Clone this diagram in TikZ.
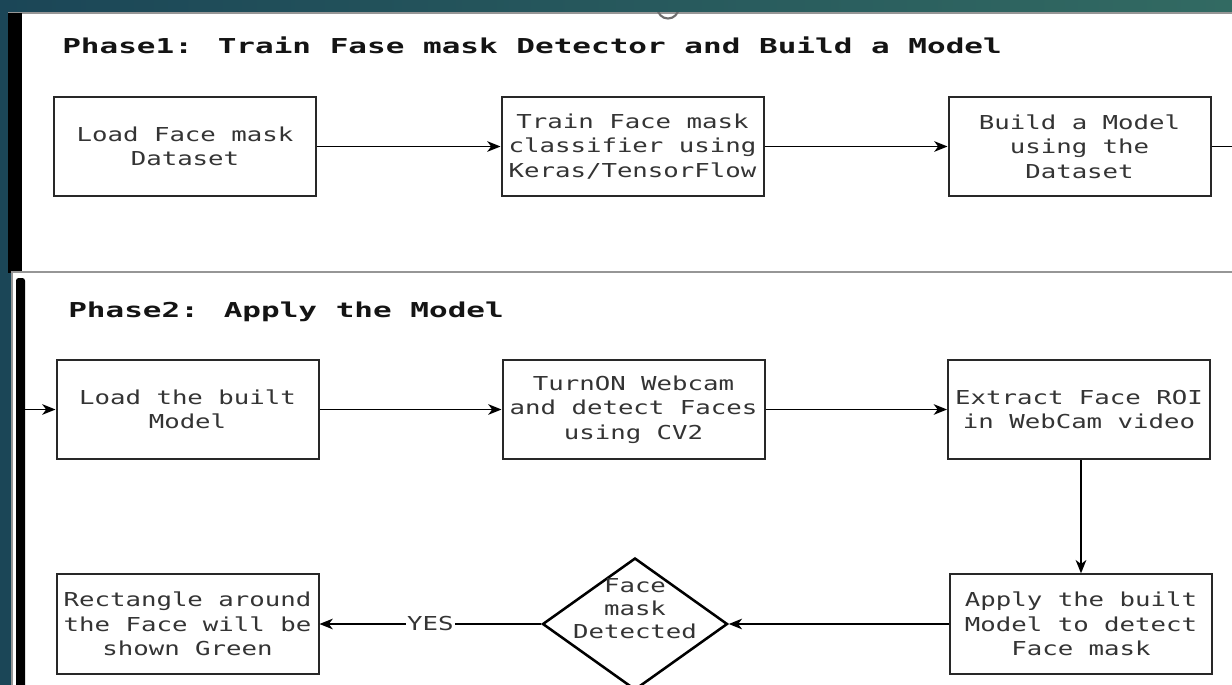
\documentclass[tikz,border=0pt]{standalone}
\usepackage{fontspec}
\usetikzlibrary{shapes.geometric,arrows.meta}
\newfontfamily\boxfont{DejaVu Sans Mono}[FakeStretch=1.34]
\newfontfamily\phasefont{DejaVu Sans Mono}[FakeStretch=1.51]
\definecolor{slidetealleft}{RGB}{27,70,87}
\definecolor{slidetealright}{RGB}{50,106,98}
\definecolor{boxtext}{RGB}{52,52,52}

\begin{document}
\begin{tikzpicture}[x=0.75pt,y=0.75pt,yscale=-1,xscale=1,
	stepbox/.style={draw={rgb,255:red,40;green,40;blue,40},line width=1.5pt,minimum width=196.5pt,minimum height=74.5pt,inner sep=0pt,align=center,text=boxtext,font=\boxfont\fontsize{14.4}{18.4}\selectfont},
	phasetitle/.style={anchor=base west,inner sep=0pt,text={rgb,255:red,20;green,20;blue,20},font=\phasefont\bfseries\fontsize{15.4}{18}\selectfont},
	flow/.style={draw=black,line width=1.2pt,-{Stealth[length=10pt,width=8pt,inset=3pt]}}]
	\useasboundingbox (0,0) rectangle (1232,685);
	\clip (0,0) rectangle (1232,685);
	
	%Shape: Slide background
	\fill [left color=slidetealleft,right color=slidetealright] (0,0) rectangle (1232,685);
	%Shape: Panel 1
	\fill [white] (8,13) rectangle (1232,273);
	\draw [color={rgb, 255:red, 150; green, 150; blue, 150 },line width=0.8pt] (8,13) -- (1232,13);
	\fill [black] (8,13) rectangle (22,273);
	\begin{scope}
		\clip (22,13) rectangle (1232,273);
		\draw [color={rgb, 255:red, 110; green, 110; blue, 110 },line width=1.6pt] (668,8) circle [radius=10.5];
	\end{scope}
	%Shape: Panel 2
	\fill [white] (12,272) rectangle (1232,685);
	\draw [color={rgb, 255:red, 150; green, 150; blue, 150 },line width=0.8pt] (12,685) -- (12,272) -- (1232,272);
	\fill [black,rounded corners=2pt] (16,278) rectangle (25,690);
	
	% Text Node
	\node [phasetitle] (phaseone) at (62,54) {Phase1: Train Fase mask Detector and Build a Model};
	% Text Node
	\node [phasetitle] (phasetwo) at (68,317) {Phase2: Apply the Model};
	
	%Phase 1 boxes
	\node [stepbox] (loaddata) at (185,146.5) {Load Face mask\\Dataset};
	\node [stepbox] (trainclf) at (632.5,146.5) {Train Face mask\\classifier using\\Keras/TensorFlow};
	\node [stepbox] (buildmodel) at (1079.5,146.5) {Build a Model\\using the\\Dataset};
	\coordinate (phaseoneout) at (1232,146.5);
	
	%Phase 2 boxes
	\node [stepbox] (loadmodel) at (187.5,409.5) {Load the built\\Model};
	\node [stepbox] (webcam) at (633.5,409.5) {TurnON Webcam\\and detect Faces\\using CV2};
	\node [stepbox] (extractroi) at (1079,409.5) {Extract Face ROI\\in WebCam video};
	\node [stepbox] (applymodel) at (1081,624) {Apply the built\\Model to detect\\Face mask};
	\node [stepbox] (rectgreen) at (187.5,624) {Rectangle around\\the Face will be\\shown Green};
	\coordinate (phasetwoin) at (25,409.5);
	
	%Shape: Diamond
	\node [diamond,draw=black,line width=1.9pt,minimum width=138.75pt,minimum height=99pt,inner sep=0pt] (detected) at (635,624) {};
	% Text Node
	\node [align=center,inner sep=0pt,text=boxtext,font=\boxfont\fontsize{14.4}{17.3}\selectfont] (detectedtext) at (635,609) {Face\\mask\\Detected};
	
	%Straight Lines
	\draw [flow] (loaddata) -- (trainclf);
	\draw [flow] (trainclf) -- (buildmodel);
	\draw [line width=1.2pt] (buildmodel) -- (phaseoneout);
	\draw [flow] (phasetwoin) -- (loadmodel);
	\draw [flow] (loadmodel) -- (webcam);
	\draw [flow] (webcam) -- (extractroi);
	\draw [flow] (extractroi.south -| applymodel.north) -- (applymodel.north);
	\draw [flow] (applymodel) -- (detected.east);
	\draw [flow] (detected.west) -- node [fill=white,inner sep=1pt,text=boxtext,font=\boxfont\fontsize{14.4}{18.4}\selectfont] (yes) {YES} (rectgreen);
	
\end{tikzpicture}
\end{document}
